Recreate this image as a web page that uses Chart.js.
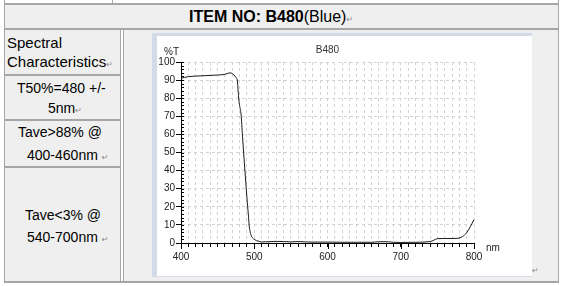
<!DOCTYPE html>
<html lang="en">
<head>
  <meta charset="UTF-8">
  <title>B480 Blue</title>
  <script src="https://cdn.jsdelivr.net/npm/chart.js"></script>
  <style>
    body { margin: 0; width: 565px; height: 286px; overflow: hidden; background: #fff;
      font-family: Arial, 'Liberation Sans', sans-serif; color: #000; position: relative; }
    .cell { position: absolute; background: #efefef; }
    .hl { position: absolute; background: #a6a6a6; height: 2px; }
    .vl { position: absolute; background: #a6a6a6; width: 1px; }
    .txt { position: absolute; white-space: nowrap; line-height: 18px; font-size: 14px; }
    .ret { font-family: 'DejaVu Sans', sans-serif; font-size: 8px; color: #8a8a8a; }
    #plot { position: absolute; left: 152px; top: 33px; width: 380px; height: 244px;
      background: #d3dbe6; }
    #inner { position: absolute; left: 5px; top: 3px; width: 375px; height: 240px; background: #fff; }
  </style>
</head>
<body>
<!-- table frame -->
<div class="vl" style="left:4px;top:0;height:283px"></div>
<div class="vl" style="left:112px;top:0;height:4px"></div>
<div class="vl" style="left:558px;top:0;height:283px"></div>
<div class="hl" style="left:4px;top:3px;width:555px"></div>
<div class="cell" style="left:5px;top:5px;width:553px;height:23px"></div>
<div class="hl" style="left:4px;top:28px;width:555px"></div>
<div class="cell" style="left:5px;top:30px;width:115px;height:251px"></div>
<div class="cell" style="left:124px;top:30px;width:434px;height:251px"></div>
<div class="vl" style="left:120px;top:30px;height:252px"></div>
<div class="vl" style="left:123px;top:30px;height:252px"></div>
<div class="hl" style="left:5px;top:74px;width:115px"></div>
<div class="hl" style="left:5px;top:119px;width:115px"></div>
<div class="hl" style="left:5px;top:166px;width:115px"></div>
<div class="hl" style="left:4px;top:281px;width:555px"></div>

<div class="txt" style="left:189px;top:8px;font-size:16px"><b>ITEM NO: B480</b>(Blue)<span class="ret">↵</span></div>

<div class="txt" style="left:7px;top:34px;font-size:15px">Spectral</div>
<div class="txt" style="left:7px;top:53px;font-size:15px">Characteristics<span class="ret">↵</span></div>
<div class="txt" style="left:17px;top:79px">T50%=480 +/-</div>
<div class="txt" style="left:48px;top:99px">5nm<span class="ret">↵</span></div>
<div class="txt" style="left:18px;top:123px">Tave&gt;88% @</div>
<div class="txt" style="left:27px;top:146px">400-460nm <span class="ret">↵</span></div>
<div class="txt" style="left:25px;top:206px">Tave&lt;3% @</div>
<div class="txt" style="left:27px;top:228px">540-700nm <span class="ret">↵</span></div>
<div class="txt ret" style="left:532px;top:262px">↵</div>

<div id="plot"><div id="inner"><canvas id="c" width="375" height="240"></canvas></div></div>

<script>
// spectrum
const wavelengths = [400, 405, 410, 420, 430, 440, 450, 460, 464, 467, 470, 472, 474, 476, 477, 478, 479, 480,
  482, 484, 486, 488, 490, 491, 492, 493, 494, 496, 498, 500, 503, 506, 510, 520, 530, 540, 550, 560, 570,
  580, 600, 620, 640, 660, 670, 680, 690, 700, 720, 740, 745, 750, 760, 770, 778, 784, 790, 795, 800];
const transmission = [91, 91.5, 91.9, 92.2, 92.4, 92.6, 92.8, 93.2, 93.7, 94, 93.6, 93, 92, 91, 89.5, 84, 79, 76,
  71, 59, 47, 36, 25, 20, 15.5, 10, 7, 4, 2.7, 2, 1.3, 1, 0.6, 0.7, 0.9, 0.8, 0.6, 0.8, 0.6,
  0.5, 0.5, 0.4, 0.4, 0.4, 0.7, 0.7, 0.4, 0.3, 0.4, 0.8, 1.5, 2.4, 2.5, 2.5, 2.6, 3.5, 5.7, 9, 13];
const xTickLabels = [400, 500, 600, 700, 800];
const yTickLabels = [0, 10, 20, 30, 40, 50, 60, 70, 80, 90, 100];
const chartTitle = 'B480';

const gridColor = '#d2d2d2';

// small ticks along y axis and the unit labels
const extras = {
  id: 'extras',
  afterDraw(chart) {
    const ctx = chart.ctx, y = chart.scales.y, x = chart.scales.x, a = chart.chartArea;
    ctx.save();
    ctx.strokeStyle = '#000';
    ctx.lineWidth = 1;
    ctx.beginPath();
    for (let v = 0; v <= 100; v += 2) {
      const py = Math.round(y.getPixelForValue(v)) + 0.5;
      ctx.moveTo(a.left, py);
      ctx.lineTo(a.left + 3, py);
    }
    xTickLabels.forEach(v => {
      const px = Math.round(x.getPixelForValue(v)) + 0.5;
      ctx.moveTo(px, a.bottom);
      ctx.lineTo(px, a.bottom + 6);
    });
    ctx.stroke();
    ctx.fillStyle = '#222';
    ctx.font = '10px Arial, "Liberation Sans"';
    ctx.textAlign = 'left';
    ctx.textBaseline = 'middle';
    ctx.fillText('%T', a.left - 17, a.top - 10);
    ctx.fillText('nm', a.right + 12, a.bottom + 5);
    ctx.restore();
  }
};

new Chart(document.getElementById('c'), {
  type: 'line',
  data: {
    datasets: [{
      data: wavelengths.map((w, i) => ({ x: w, y: transmission[i] })),
      borderColor: '#1a1a1a',
      borderWidth: 1,
      pointRadius: 0,
      cubicInterpolationMode: 'monotone',
      fill: false
    }]
  },
  options: {
    responsive: false,
    animation: false,
    layout: { padding: { left: 0, right: 58, top: 0, bottom: 0 } },
    plugins: {
      legend: { display: false },
      tooltip: { enabled: false },
      title: {
        display: true, text: chartTitle, fullSize: false, color: '#333',
        font: { family: 'Arial, "Liberation Sans"', size: 10, weight: 'normal' },
        padding: { top: 8, bottom: 6 }
      }
    },
    scales: {
      x: {
        type: 'linear', min: 400, max: 800,
        afterFit: s => { s.height = 33; },
        ticks: {
          stepSize: 10, autoSkip: false, maxRotation: 0, padding: 4, color: '#222',
          font: { family: 'Arial, "Liberation Sans"', size: 10 },
          callback: v => xTickLabels.includes(v) ? v : ''
        },
        grid: { color: gridColor, tickColor: '#000', tickLength: 4 },
        border: { color: '#000', width: 1, dash: [3, 3] }
      },
      y: {
        min: 0, max: 100,
        afterFit: s => { s.width = 24; },
        ticks: {
          stepSize: 5, padding: 1, color: '#222',
          font: { family: 'Arial, "Liberation Sans"', size: 10 },
          callback: v => yTickLabels.includes(v) ? v : ''
        },
        grid: { color: gridColor, tickColor: ctx => ctx.tick && ctx.tick.value % 10 === 0 ? '#000' : 'rgba(0,0,0,0)', tickLength: 5 },
        border: { color: '#000', width: 1, dash: [3, 3] }
      }
    }
  },
  plugins: [extras]
});
</script>
</body>
</html>
